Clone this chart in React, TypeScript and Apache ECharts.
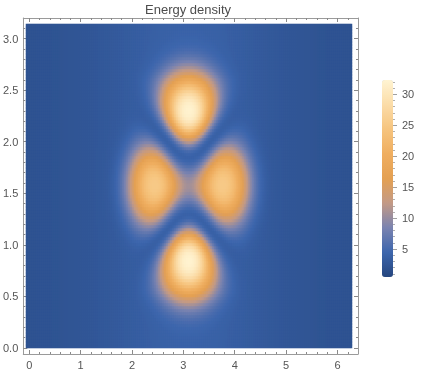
import React, { useEffect, useRef } from "react";
import * as echarts from "echarts";

// ---- texts / ticks ----
const TITLE = "Energy density";
const X_TICKS = [0, 1, 2, 3, 4, 5, 6];
const Y_TICKS = [0, 0.5, 1, 1.5, 2, 2.5, 3];
const CBAR_TICKS = [5, 10, 15, 20, 25, 30];

// ---- domain ----
const X_MAX = 6.2832;
const Y_MAX = 3.1416;
const VALUE_MIN = 0.5;
const VALUE_MAX = 32.3;

// ---- colour scale (evenly spaced from VALUE_MIN to VALUE_MAX) ----
const COLOR_STOPS = [
  "#25467f",
  "#3d66ad",
  "#7a83b0",
  "#c39a86",
  "#e4a052",
  "#efae60",
  "#f6c47e",
  "#fbdca8",
  "#fff4d2",
];

// ---- density features ----
const blobX = [3.14, 3.14, 2.48, 3.8];
const blobY = [2.27, 0.87, 1.58, 1.58];
const blobPeak = [28.5, 28.5, 21.5, 21.5];
const blobSign = [1, 1, -1, -1];
const blobDir = ["up", "down", "left", "right"];
const blobRadOut = [0.34, 0.34, 0.43, 0.43];
const blobRadIn = [0.26, 0.26, 0.4, 0.4];
const blobRadAcross = [0.42, 0.42, 0.32, 0.32];
const blobTaper = [0.25, 0.25, 0.1, 0.1];
const blobSharp = [2.5, 2.5, 2.5, 2.5];
const BG_EDGE = 2.0;
const BG_CENTER = 4.0;
const BG_WIDTH = 1.2;

const NX = 163;
const NY = 108;

function amplitude(i: number, x: number, y: number) {
  const dx = x - blobX[i];
  const dy = y - blobY[i];
  let along = 0;
  let across = 0;
  const d = blobDir[i];
  if (d === "up") { along = dy; across = dx; }
  else if (d === "down") { along = -dy; across = dx; }
  else if (d === "left") { along = -dx; across = dy; }
  else { along = dx; across = dy; }
  const ra = along >= 0 ? along / blobRadOut[i] : along / blobRadIn[i];
  const t = Math.max(-1, Math.min(1, along / blobRadOut[i]));
  const acrossRad = blobRadAcross[i] * (1 + blobTaper[i] * t);
  const r2 = ra * ra + (across / acrossRad) * (across / acrossRad);
  const v = Math.pow(2, -Math.pow(r2, blobSharp[i] / 2));
  return blobSign[i] * Math.sqrt(blobPeak[i] * v);
}

function density(x: number, y: number) {
  let a = 0;
  for (let i = 0; i < blobX.length; i++) a += amplitude(i, x, y);
  const bg = BG_EDGE + (BG_CENTER - BG_EDGE) * Math.exp(-0.5 * Math.pow((x - Math.PI) / BG_WIDTH, 2));
  return bg + a * a;
}

function minorTicks(min: number, max: number, step: number, majorStep: number) {
  const out: number[] = [];
  const n = Math.round((max - min) / step);
  for (let k = 0; k <= n; k++) {
    const v = +(min + k * step).toFixed(4);
    const r = v / majorStep;
    if (Math.abs(r - Math.round(r)) > 1e-6) out.push(v);
  }
  return out;
}

const FONT = "Liberation Sans";
const FRAME = "#9a9a9a";
const TICK = "#8a8a8a";
const LABEL = "#555555";

export default function App() {
  const ref = useRef<HTMLDivElement>(null);
  useEffect(() => {
    document.body.style.margin = "0";
    if (!ref.current) return;
    const chart = echarts.init(ref.current, undefined, { renderer: "svg" });

    const cats = (n: number) => Array.from({ length: n }, (_, i) => i);
    const data: number[][] = [];
    for (let i = 0; i < NX; i++) {
      const x = ((i + 0.5) * X_MAX) / NX;
      for (let j = 0; j < NY; j++) {
        const y = ((j + 0.5) * Y_MAX) / NY;
        data.push([i, j, density(x, y)]);
      }
    }

    const padX = 6 / (326 / X_MAX);
    const padY = 6 / (324 / Y_MAX);
    const fxMin = -padX, fxMax = X_MAX + padX;
    const fyMin = -padY, fyMax = Y_MAX + padY;

    const xMinor = minorTicks(0, 6.2, 0.2, 1);
    const yMinor = minorTicks(0, 3.1, 0.1, 0.5);
    const cMinor = minorTicks(1, 32, 1, 5);

    const frameX = (pos: string, ticks: number[], len: number, labels: boolean, line: boolean) => ({
      type: "value", gridIndex: 1, position: pos, min: fxMin, max: fxMax,
      axisLine: { show: line, onZero: false, lineStyle: { color: FRAME, width: 1 } },
      axisTick: { show: true, inside: true, length: len, customValues: ticks, lineStyle: { color: TICK } },
      axisLabel: labels
        ? { show: true, customValues: ticks, margin: 5, color: LABEL, fontSize: 11, fontFamily: FONT, formatter: (v: number) => String(v) }
        : { show: false },
      splitLine: { show: false },
    });
    const frameY = (pos: string, ticks: number[], len: number, labels: boolean, line: boolean) => ({
      type: "value", gridIndex: 1, position: pos, min: fyMin, max: fyMax,
      axisLine: { show: line, onZero: false, lineStyle: { color: FRAME, width: 1 } },
      axisTick: { show: true, inside: true, length: len, customValues: ticks, lineStyle: { color: TICK } },
      axisLabel: labels
        ? { show: true, customValues: ticks, margin: 5, color: LABEL, fontSize: 11, fontFamily: FONT, formatter: (v: number) => v.toFixed(1) }
        : { show: false },
      splitLine: { show: false },
    });

    chart.setOption({
      animation: false,
      graphic: [
        {
          type: "text", x: 188, y: 3, silent: true,
          style: { text: TITLE, textAlign: "center", textVerticalAlign: "top", fontSize: 13, fill: "#4d4d4d", fontFamily: FONT },
        },
      ],
      grid: [
        { left: 26, top: 24, width: 326, height: 324 },
        { left: 20, top: 18, width: 338, height: 336 },
        { left: 382, top: 80, width: 11, height: 197 },
      ],
      xAxis: [
        { type: "category", gridIndex: 0, data: cats(NX), show: false },
        frameX("bottom", X_TICKS, 4, true, true),
        frameX("bottom", xMinor, 2, false, false),
        frameX("top", X_TICKS, 4, false, true),
        frameX("top", xMinor, 2, false, false),
        { type: "value", gridIndex: 2, show: false, min: 0, max: 1 },
      ],
      yAxis: [
        { type: "category", gridIndex: 0, data: cats(NY), show: false },
        frameY("left", Y_TICKS, 4, true, true),
        frameY("left", yMinor, 2, false, false),
        frameY("right", Y_TICKS, 4, false, true),
        frameY("right", yMinor, 2, false, false),
        {
          type: "value", gridIndex: 2, position: "right", min: VALUE_MIN, max: VALUE_MAX,
          axisLine: { show: false, onZero: false },
          axisTick: { show: true, inside: false, length: 4, customValues: CBAR_TICKS, lineStyle: { color: "#a0a0a0" } },
          axisLabel: { show: true, customValues: CBAR_TICKS, margin: 9, color: LABEL, fontSize: 11, fontFamily: FONT },
          splitLine: { show: false },
        },
        {
          type: "value", gridIndex: 2, position: "right", min: VALUE_MIN, max: VALUE_MAX,
          axisLine: { show: false, onZero: false },
          axisTick: { show: true, inside: false, length: 2, customValues: cMinor, lineStyle: { color: "#b0b0b0" } },
          axisLabel: { show: false },
          splitLine: { show: false },
        },
      ],
      visualMap: {
        type: "continuous", min: VALUE_MIN, max: VALUE_MAX, seriesIndex: 0,
        calculable: false, left: 382, top: 80, itemWidth: 11, itemHeight: 197, padding: 0,
        inRange: { color: COLOR_STOPS },
      },
      series: [
        {
          type: "heatmap", xAxisIndex: 0, yAxisIndex: 0, data,
          progressive: 0, progressiveThreshold: 1000000,
          itemStyle: { borderWidth: 0 },
          emphasis: { disabled: true },
          silent: true,
        },
      ],
    });
    return () => chart.dispose();
  }, []);
  return <div ref={ref} style={{ position: "fixed", left: 0, top: 0, width: 421, height: 375 }} />;
}
